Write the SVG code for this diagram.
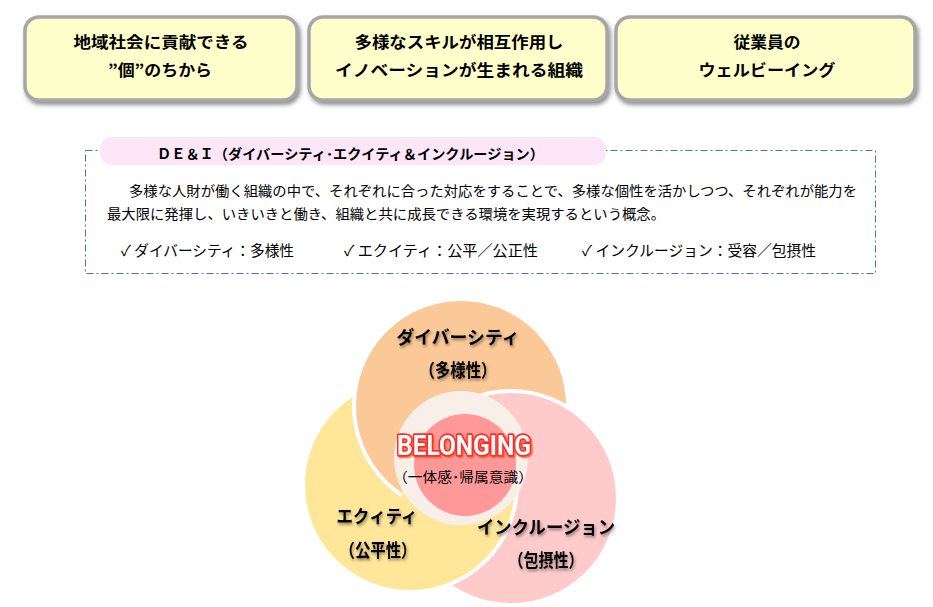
<svg xmlns="http://www.w3.org/2000/svg" width="933" height="607" viewBox="0 0 933 607">
<defs>
<style>
.jp{font-family:"Noto Sans CJK JP","Noto Sans CJK SC",sans-serif;fill:#000}
.boxr{fill:#FFFFCC;stroke:#A6A6A6;stroke-width:3.5}
.bt{font-size:16px;font-weight:bold;text-anchor:middle}
.body{font-size:14px}
.vl{font-size:18px;font-weight:bold;text-anchor:middle}
.circ{stroke:#FFFFFF;stroke-width:4}
</style>
<filter id="boxShadow" x="-10%" y="-20%" width="120%" height="150%">
<feDropShadow dx="2" dy="3" stdDeviation="2" flood-color="#404040" flood-opacity="0.6"/>
</filter>
<filter id="txtShadow" x="-20%" y="-40%" width="140%" height="180%">
<feDropShadow dx="1" dy="2" stdDeviation="1.6" flood-color="#000" flood-opacity="0.45"/>
</filter>
<filter id="belShadow" x="-20%" y="-40%" width="140%" height="180%">
<feDropShadow dx="1.5" dy="1.5" stdDeviation="0.6" flood-color="#F06020" flood-opacity="0.8"/>
</filter>
<clipPath id="clipO"><circle cx="461" cy="406" r="109.5"/></clipPath>
<clipPath id="clipP"><circle cx="511" cy="498" r="109.5"/></clipPath>
</defs>
<rect width="933" height="607" fill="#FFFFFF"/>

<g id="box1">
<rect class="boxr" x="25" y="17" width="272" height="83" rx="14" filter="url(#boxShadow)"/>
<text class="jp bt" x="161" y="47.5" textLength="175" lengthAdjust="spacingAndGlyphs">地域社会に貢献できる</text>
<text class="jp bt" x="160" y="76" textLength="104" lengthAdjust="spacingAndGlyphs">”個”のちから</text>
</g>
<g id="box2">
<rect class="boxr" x="309" y="17" width="298" height="83" rx="14" filter="url(#boxShadow)"/>
<text class="jp bt" x="459" y="47.5" textLength="209" lengthAdjust="spacingAndGlyphs">多様なスキルが相互作用し</text>
<text class="jp bt" x="459" y="76" textLength="248" lengthAdjust="spacingAndGlyphs">イノベーションが生まれる組織</text>
</g>
<g id="box3">
<rect class="boxr" x="616" y="17" width="299" height="83" rx="14" filter="url(#boxShadow)"/>
<text class="jp bt" x="767" y="47.5" textLength="67" lengthAdjust="spacingAndGlyphs">従業員の</text>
<text class="jp bt" x="767" y="76" textLength="137" lengthAdjust="spacingAndGlyphs">ウェルビーイング</text>
</g>

<g id="dei">
<rect x="85.5" y="150.5" width="790" height="123" fill="none" stroke="#4472C4" stroke-width="1" stroke-dasharray="7 3 2 3"/>
<rect x="100" y="137" width="506" height="28" rx="12" fill="#FDE6F8"/>
<text class="jp" x="157" y="159" font-size="14" font-weight="bold" textLength="387" lengthAdjust="spacingAndGlyphs">ＤＥ＆Ｉ（ダイバーシティ･エクイティ＆インクルージョン）</text>
<text class="jp body" x="129" y="195.5" textLength="728" lengthAdjust="spacingAndGlyphs">多様な人財が働く組織の中で、それぞれに合った対応をすることで、多様な個性を活かしつつ、それぞれが能力を</text>
<text class="jp body" x="107" y="218.5" textLength="558" lengthAdjust="spacingAndGlyphs">最大限に発揮し、いきいきと働き、組織と共に成長できる環境を実現するという概念。</text>
<text class="jp" x="121" y="256" font-size="15" textLength="173" lengthAdjust="spacingAndGlyphs">✓ ダイバーシティ：多様性</text>
<text class="jp" x="344" y="256" font-size="15" textLength="194" lengthAdjust="spacingAndGlyphs">✓ エクイティ：公平／公正性</text>
<text class="jp" x="582" y="256" font-size="15" textLength="234" lengthAdjust="spacingAndGlyphs">✓ インクルージョン：受容／包摂性</text>
</g>

<g id="venn-circles">
<circle id="c-equity" class="circ" cx="410" cy="485" r="107" fill="#FFE699"/>
<circle id="c-inclusion" class="circ" cx="511" cy="498" r="107" fill="#FFCACA"/>
<circle id="c-diversity" class="circ" cx="461" cy="406" r="107" fill="#FBC898"/>
<circle class="circ" cx="511" cy="498" r="107" fill="#FFCACA" clip-path="url(#clipO)"/>
<circle class="circ" cx="410" cy="485" r="107" fill="#FFE699" clip-path="url(#clipP)"/>
</g>

<g id="belonging">
<circle cx="461" cy="458" r="67" fill="#F9EFE9"/>
<circle cx="465" cy="465" r="51" fill="#FF9999"/>
<text x="464" y="455" font-family="Roboto,'DejaVu Sans',sans-serif" font-size="28" font-weight="bold" text-anchor="middle" fill="#FFFFFF" stroke="#FF2A2A" stroke-width="3.5" paint-order="stroke" stroke-linejoin="round" textLength="134" lengthAdjust="spacingAndGlyphs" filter="url(#belShadow)">BELONGING</text>
<text class="jp" x="463" y="482" font-size="14" text-anchor="middle" textLength="140" lengthAdjust="spacingAndGlyphs">（一体感･帰属意識）</text>
</g>

<g id="label-diversity" filter="url(#txtShadow)">
<text class="jp vl" x="458" y="344" textLength="123" lengthAdjust="spacingAndGlyphs">ダイバーシティ</text>
<text class="jp vl" x="458" y="377" textLength="77" lengthAdjust="spacingAndGlyphs">（多様性）</text>
</g>
<g id="label-equity" filter="url(#txtShadow)">
<text class="jp vl" x="377" y="523" textLength="81" lengthAdjust="spacingAndGlyphs">エクィティ</text>
<text class="jp vl" x="378" y="557" textLength="77" lengthAdjust="spacingAndGlyphs">（公平性）</text>
</g>
<g id="label-inclusion" filter="url(#txtShadow)">
<text class="jp vl" x="546" y="534" textLength="138" lengthAdjust="spacingAndGlyphs">インクルージョン</text>
<text class="jp vl" x="546" y="567" textLength="75" lengthAdjust="spacingAndGlyphs">（包摂性）</text>
</g>

<g id="connectors"/>
</svg>
